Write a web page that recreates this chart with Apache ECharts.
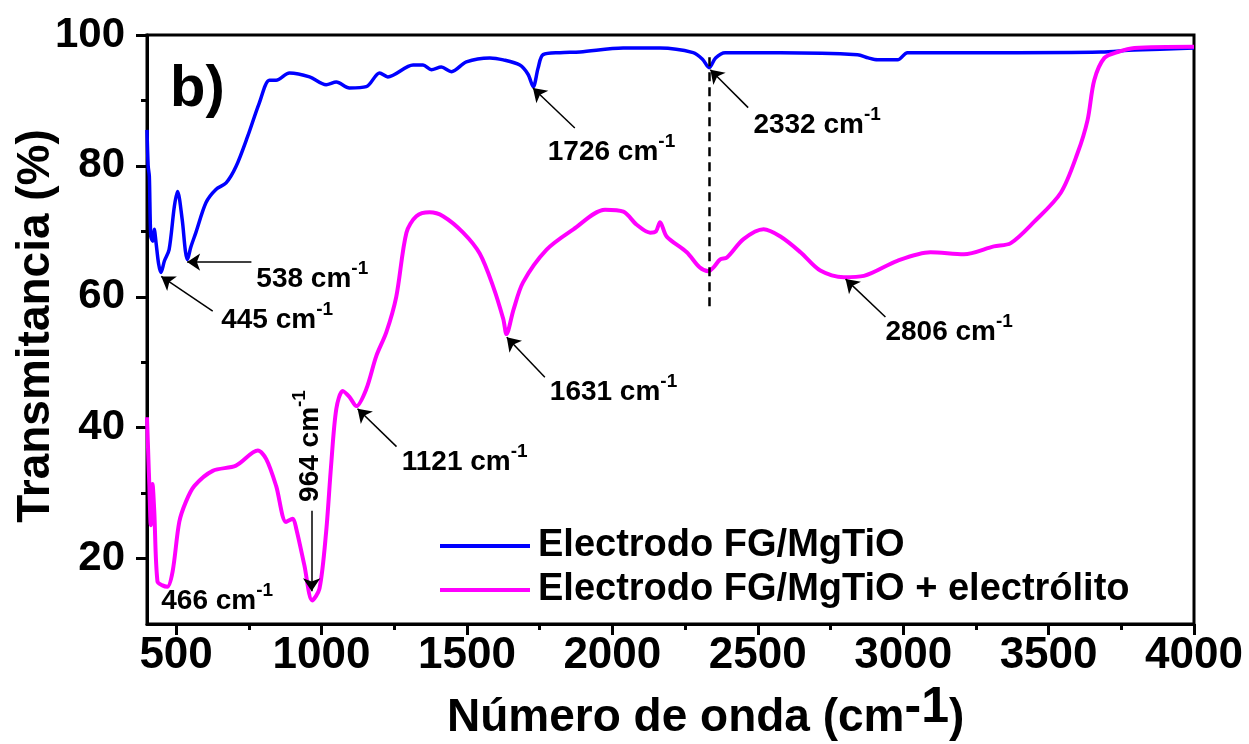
<!DOCTYPE html>
<html><head><meta charset="utf-8">
<script src="https://cdn.jsdelivr.net/npm/echarts@6/dist/echarts.min.js"></script>
<style>html,body{margin:0;padding:0;background:#fff}#c{width:1249px;height:744px}</style>
</head><body><div id="c"></div>
<script>
const seriesNames = ['Electrodo FG/MgTiO', 'Electrodo FG/MgTiO + electrólito'];

const blueX = [400,404,408,413,420,425,431,440,448,460,476,494,505,521,532,539,550,568,603,637,672,706,746,786,821,844,890,959,1016,1051,1096,1154,1200,1228,1315,1349,1378,1412,1447,1498,1579,1625,1682,1710,1728,1745,1762,1820,1889,2037,2164,2278,2310,2333,2355,2388,2578,2843,2880,2912,2981,3015,3336,3680,3794,4000];
const blueY = [85.5,80,78.4,69.2,68.5,70.3,68.3,65,63.7,65.5,67.2,73.8,76.1,71.8,67,65.7,67.5,69.8,74.4,76.4,77.4,79.9,84.5,89.6,93.1,93.1,94.2,93.6,92.4,92.8,91.9,92.1,94.2,93.6,95.4,95.4,94.7,95.1,94.4,95.9,96.5,96.2,95.4,94,92.1,95,97,97.3,97.4,98,98,97.3,96.3,95,96.5,97.3,97.3,97,96.5,96.2,96.2,97.3,97.3,97.4,97.7,98];

const magX = [400,405,408,413,419,425,436,453,470,488,511,534,563,626,706,781,810,844,878,901,913,941,968,993,1016,1033,1051,1073,1096,1120,1154,1188,1223,1257,1292,1326,1372,1418,1487,1544,1590,1625,1636,1660,1693,1774,1866,1975,2038,2084,2130,2150,2164,2187,2256,2300,2331,2348,2371,2394,2451,2520,2578,2647,2715,2796,2865,2980,3094,3209,3312,3370,3449,3542,3600,3634,3657,3692,3738,3795,4000];
const magY = [41.6,35,31.2,25.1,31.4,27.2,16.5,15.9,15.7,18,25.6,28.7,31.1,33.4,34.2,36.5,35.2,31.1,25.6,26.1,24.6,19,13.6,15.4,24.1,34.2,42.9,45.6,44.7,43.3,45.9,50.9,54.6,60,69.8,72.3,72.9,72.3,69.8,66.6,61.6,56.6,54.3,58,62.2,67.2,70.3,73.3,73,71,69.8,70,71.4,69.2,66.8,64.5,63.9,64.5,65.7,66,68.8,70.3,69.2,66.8,64,63,63.2,65.5,66.8,66.5,67.7,68.2,71.4,75.9,82,87,93.1,96.5,97.4,98,98.2];

const xTicks = [500,1000,1500,2000,2500,3000,3500,4000];
const xMinorTicks = [750,1250,1750,2250,2750,3250,3750];
const yTicks = [20,40,60,80,100];
const yMinorTicks = [30,50,70,90];

const peakLabels = ['445 cm','538 cm','1726 cm','2332 cm','2806 cm','1631 cm','1121 cm','466 cm'];
const peakLabelAt = [[655,56.9],[776,63.1],[1778,82.5],[2485,86.7],[2939,55.0],[1785,45.9],[1276,35.2],[449,13.9]];
const rotLabel = '964 cm';
const rotLabelAt = [950,37.2];
const arrowFrom = [[626,57.8],[759,65.3],[1871,85.8],[2467,88.9],[2939,56.9],[1768,47.7],[1258,37.1],[966,27.3]];
const arrowTo   = [[449,63.1],[538,65.3],[1727,91.9],[2337,94.7],[2802,62.7],[1637,53.8],[1124,42.9],[966,15.0]];
const dashedFrom = [2332,96.6];
const dashedTo = [2332,58.1];

const FONT = "'Liberation Sans', Arial, sans-serif";
const supRich = {
  n: {fontSize: 28, fontWeight: 'bold', color: '#000', fontFamily: FONT, lineHeight: 34, verticalAlign: 'bottom'},
  s: {fontSize: 19, fontWeight: 'bold', color: '#000', fontFamily: FONT, lineHeight: 34, verticalAlign: 'top'}
};

const labelData = peakLabels.map((t, i) => ({
  value: peakLabelAt[i],
  label: {show: true, position: 'right', distance: 0, color: '#000', formatter: '{n|' + t + '}{s|-1}', rich: supRich}
}));
labelData.push({
  value: rotLabelAt,
  label: {show: true, position: 'inside', rotate: 90, align: 'center', verticalAlign: 'middle', color: '#000',
          formatter: '{n|' + rotLabel + '}{s|-1}', rich: supRich}
});

const arrowData = arrowFrom.map((p, i) => [{coord: p}, {coord: arrowTo[i]}]);
arrowData.push([
  {coord: dashedFrom, symbol: 'none', lineStyle: {type: [9, 6], width: 2.5, color: '#000'}},
  {coord: dashedTo, symbol: 'none'}
]);

const axisCommonLine = {show: true, lineStyle: {color: '#000', width: 3}};

const chart = echarts.init(document.getElementById('c'), null, {renderer: 'canvas'});
chart.setOption({
  animation: false,
  backgroundColor: '#fff',
  grid: {left: 147, right: 55, top: 35, bottom: 120, show: true, borderColor: '#000', borderWidth: 3,
         backgroundColor: 'transparent', containLabel: false, outerBoundsMode: 'none'},
  legend: {
    data: seriesNames, orient: 'vertical', left: 435, top: 522, icon: 'rect', itemWidth: 90, itemHeight: 4, itemGap: 6,
    textStyle: {fontSize: 38, fontWeight: 'bold', color: '#000', fontFamily: FONT, padding: [0, 0, 0, 3]}
  },
  xAxis: [{
    type: 'value', min: 400, max: 4000, position: 'bottom',
    axisLine: axisCommonLine,
    axisTick: {show: true, inside: false, length: 11, lineStyle: {color: '#000', width: 3}, customValues: xTicks},
    axisLabel: {customValues: xTicks, formatter: v => String(v), fontSize: 44, fontWeight: 'bold', color: '#000', fontFamily: FONT, margin: 10},
    splitLine: {show: false}
  }, {
    type: 'value', min: 400, max: 4000, position: 'bottom',
    axisLine: {show: false},
    axisTick: {show: true, inside: false, length: 6, lineStyle: {color: '#000', width: 3}, customValues: xMinorTicks},
    axisLabel: {show: false}, splitLine: {show: false}
  }],
  yAxis: [{
    type: 'value', min: 10, max: 100, position: 'left',
    axisLine: axisCommonLine,
    axisTick: {show: true, inside: false, length: 11, lineStyle: {color: '#000', width: 3}, customValues: yTicks},
    axisLabel: {customValues: yTicks, formatter: v => String(v), fontSize: 42, fontWeight: 'bold', color: '#000', fontFamily: FONT, margin: 22},
    splitLine: {show: false}
  }, {
    type: 'value', min: 10, max: 100, position: 'left',
    axisLine: {show: false},
    axisTick: {show: true, inside: false, length: 6, lineStyle: {color: '#000', width: 3}, customValues: yMinorTicks},
    axisLabel: {show: false}, splitLine: {show: false}
  }],
  series: [{
    name: seriesNames[0], type: 'line', xAxisIndex: 0, yAxisIndex: 0,
    data: blueX.map((x, i) => [x, blueY[i]]),
    symbol: 'none', smooth: 0.3,
    lineStyle: {color: '#0000ff', width: 3.5}, itemStyle: {color: '#0000ff'}, z: 3
  }, {
    name: seriesNames[1], type: 'line', xAxisIndex: 0, yAxisIndex: 0,
    data: magX.map((x, i) => [x, magY[i]]),
    symbol: 'none', smooth: 0.3,
    lineStyle: {color: '#ff00ff', width: 4}, itemStyle: {color: '#ff00ff'}, z: 3
  }, {
    name: 'annotations', type: 'scatter', xAxisIndex: 0, yAxisIndex: 0,
    symbolSize: 0, silent: true, data: labelData, z: 5,
    itemStyle: {color: '#000', opacity: 1},
    markLine: {
      silent: true, symbol: ['none', 'arrow'], symbolSize: 13,
      label: {show: false},
      lineStyle: {color: '#000', width: 1.5, type: 'solid'},
      itemStyle: {color: '#000'},
      emphasis: {disabled: true},
      data: arrowData
    }
  }],
  graphic: [{
    type: 'text', x: 170, y: 90,
    style: {text: 'b)', fontSize: 58, fontWeight: 'bold', fontFamily: FONT, fill: '#000',
            textAlign: 'left', textVerticalAlign: 'middle'}
  }, {
    type: 'text', x: 36, y: 326, rotation: Math.PI / 2,
    style: {text: 'Transmitancia (%)', fontSize: 46, fontWeight: 'bold', fontFamily: FONT, fill: '#000',
            textAlign: 'center', textVerticalAlign: 'middle'}
  }, {
    type: 'text', x: 447, y: 712,
    style: {
      text: '{a|Número de onda (cm}{s|-1}{a|)}',
      textAlign: 'left', textVerticalAlign: 'middle',
      rich: {
        a: {fontSize: 46, fontWeight: 'bold', fontFamily: FONT, fill: '#000', lineHeight: 58, verticalAlign: 'bottom'},
        s: {fontSize: 50, fontWeight: 'bold', fontFamily: FONT, fill: '#000', lineHeight: 50, verticalAlign: 'top'}
      }
    }
  }]
});
</script></body></html>
